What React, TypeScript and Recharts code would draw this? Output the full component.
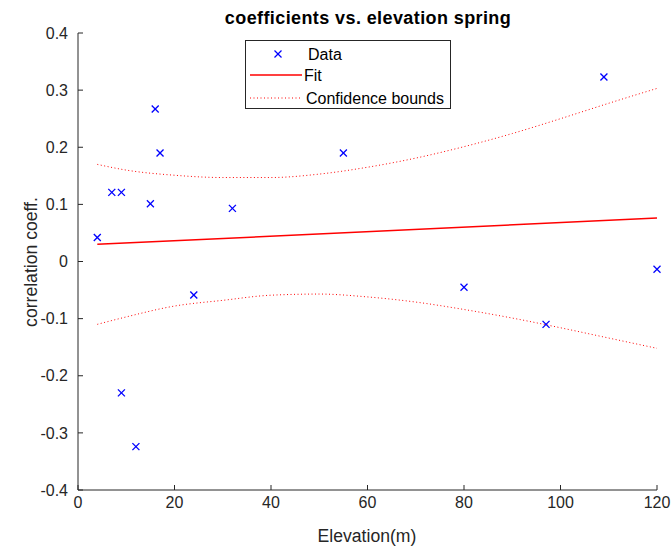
import React from 'react'
import { ComposedChart, Line, Scatter, XAxis, YAxis } from 'recharts'

// measured points (elevation in m, correlation coefficient)
const elevation = [4, 7, 9, 9, 12, 15, 16, 17, 24, 32, 55, 80, 97, 109, 120]
const coeff = [0.042, 0.121, 0.121, -0.23, -0.324, 0.101, 0.267, 0.19, -0.0585, 0.093, 0.19, -0.045, -0.11, 0.323, -0.0135]

// fitted line ends
const fitX = [4, 120]
const fitY = [0.03, 0.076]

// confidence bounds
const boundX = [4, 10, 20, 30, 40, 50, 60, 70, 80, 90, 100, 110, 120]
const upperBound = [0.17, 0.16, 0.151, 0.147, 0.147, 0.153, 0.165, 0.181, 0.201, 0.224, 0.25, 0.277, 0.303]
const lowerBound = [-0.11, -0.097, -0.078, -0.068, -0.059, -0.057, -0.062, -0.071, -0.084, -0.099, -0.116, -0.134, -0.152]

const xTicks = [0, 20, 40, 60, 80, 100, 120]
const yTicks = [-0.4, -0.3, -0.2, -0.1, 0, 0.1, 0.2, 0.3, 0.4]

const FONT = '"Liberation Sans", Arial, Helvetica, sans-serif'
const INK = '#262626'

const points = elevation.map((x, i) => ({ x, y: coeff[i] }))
const fitData = fitX.map((x, i) => ({ x, y: fitY[i] }))
const upperData = boundX.map((x, i) => ({ x, y: upperBound[i] }))
const lowerData = boundX.map((x, i) => ({ x, y: lowerBound[i] }))

// MATLAB style 'x' marker
const Cross = (props: any) => {
  const { cx, cy } = props
  const s = 3.5
  return (
    <g stroke='#0000ff' strokeWidth={1.3}>
      <line x1={cx - s} y1={cy - s} x2={cx + s} y2={cy + s} />
      <line x1={cx - s} y1={cy + s} x2={cx + s} y2={cy - s} />
    </g>
  )
}

const noLabel = () => <g />

const fmtY = (v: number) => (Math.abs(v) < 1e-9 ? '0' : v.toFixed(1))

export default function App() {
  return (
    <div style={{ position: 'absolute', left: 0, top: 0, width: 672, height: 552, background: '#fff', fontFamily: FONT }}>
      <ComposedChart width={672} height={552} margin={{ top: 33, right: 15, bottom: 0, left: 0 }}>
        <XAxis
          dataKey='x'
          type='number'
          domain={[0, 120]}
          ticks={xTicks}
          height={62}
          stroke={INK}
          tickSize={-5}
          tickMargin={12}
          tick={{ fill: INK, fontSize: 16, fontFamily: FONT }}
        />
        <XAxis xAxisId='t' orientation='top' type='number' domain={[0, 120]} ticks={xTicks} height={0} stroke={INK} tickSize={-5} tick={noLabel} />
        <YAxis
          type='number'
          domain={[-0.4, 0.4]}
          ticks={yTicks}
          width={78}
          stroke={INK}
          tickSize={-5}
          tickMargin={15}
          tickFormatter={fmtY}
          tick={{ fill: INK, fontSize: 16, fontFamily: FONT }}
        />
        <YAxis yAxisId='r' orientation='right' type='number' domain={[-0.4, 0.4]} ticks={yTicks} width={0} stroke={INK} tickSize={-5} tick={noLabel} />

        <Line data={upperData} dataKey='y' type='monotone' stroke='#ff0000' strokeWidth={1} strokeDasharray='1 2.5' dot={false} isAnimationActive={false} />
        <Line data={lowerData} dataKey='y' type='monotone' stroke='#ff0000' strokeWidth={1} strokeDasharray='1 2.5' dot={false} isAnimationActive={false} />
        <Line data={fitData} dataKey='y' type='linear' stroke='#ff0000' strokeWidth={1.5} dot={false} isAnimationActive={false} />
        <Scatter data={points} dataKey='y' shape={<Cross />} isAnimationActive={false} />
      </ComposedChart>

      {/* title, axis labels and legend box */}
      <svg width={672} height={552} style={{ position: 'absolute', left: 0, top: 0, pointerEvents: 'none' }} fontFamily={FONT}>
        <text x={368} y={24} textAnchor='middle' fontSize={18} fontWeight='bold' letterSpacing={0.4} fill='#000'>
          coefficients vs. elevation spring
        </text>
        <text x={367} y={542} textAnchor='middle' fontSize={17.6} fill={INK}>
          Elevation(m)
        </text>
        <text x={0} y={0} transform='translate(37,262) rotate(-90)' textAnchor='middle' fontSize={17.6} fill={INK}>
          correlation coeff.
        </text>

        <rect x={245.5} y={40.5} width={205} height={68} fill='#fff' stroke={INK} strokeWidth={1} />
        <g stroke='#0000ff' strokeWidth={1.3}>
          <line x1={274.5} y1={50.5} x2={281.5} y2={57.5} />
          <line x1={274.5} y1={57.5} x2={281.5} y2={50.5} />
        </g>
        <line x1={250} y1={75} x2={302} y2={75} stroke='#ff0000' strokeWidth={1.5} />
        <line x1={250} y1={98} x2={302} y2={98} stroke='#ff0000' strokeWidth={1} strokeDasharray='1 2.5' />
        <text x={308} y={60} fontSize={16} fill='#000'>Data</text>
        <text x={304} y={81} fontSize={16} fill='#000'>Fit</text>
        <text x={306} y={104} fontSize={16} fill='#000'>Confidence bounds</text>
      </svg>
    </div>
  )
}
